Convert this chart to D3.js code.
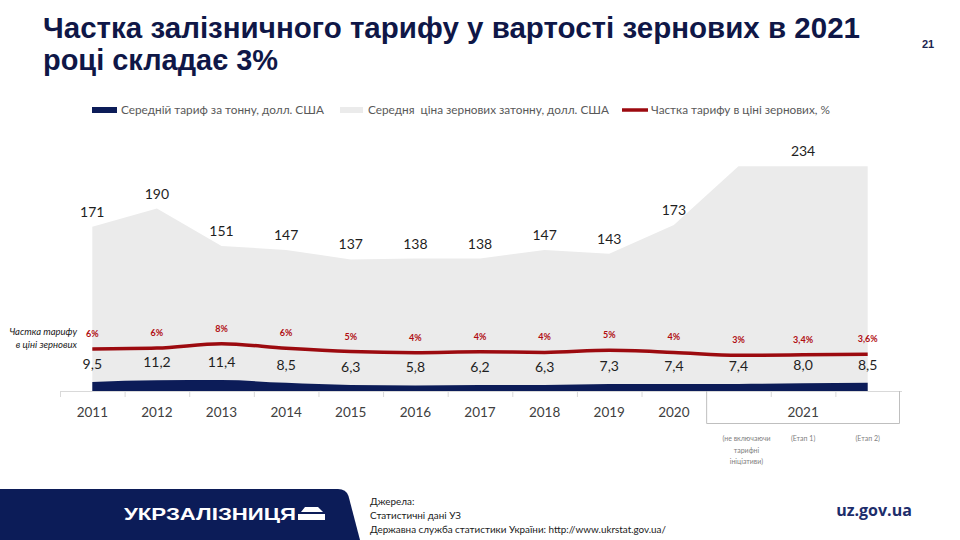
<!DOCTYPE html>
<html>
<head>
<meta charset="utf-8">
<script src="https://cdn.jsdelivr.net/npm/d3@7"></script>
<style>
  body { margin: 0; background: #fff; }
  svg { display: block; }
</style>
</head>
<body>
<div id="chart"></div>
<script>
// chart data
var categories = ["2011", "2012", "2013", "2014", "2015", "2016", "2017", "2018", "2019", "2020", "2021a", "2021b", "2021c"];
var tariff = [9.5, 11.2, 11.4, 8.5, 6.3, 5.8, 6.2, 6.3, 7.3, 7.4, 7.4, 8.0, 8.5];
var price = [171, 190, 151, 147, 137, 138, 138, 147, 143, 173, 234, 234, 234];
var share = [5.6, 5.9, 7.5, 5.8, 4.6, 4.2, 4.5, 4.3, 5.1, 4.3, 3.2, 3.4, 3.6];
var shareLabels = ["6%", "6%", "8%", "6%", "5%", "4%", "4%", "4%", "5%", "4%", "3%", "3,4%", "3,6%"];
var tariffLabels = ["9,5", "11,2", "11,4", "8,5", "6,3", "5,8", "6,2", "6,3", "7,3", "7,4", "7,4", "8,0", "8,5"];
var priceLabels = ["171", "190", "151", "147", "137", "138", "138", "147", "143", "173", "", "234", ""];
var yearLabels = ["2011", "2012", "2013", "2014", "2015", "2016", "2017", "2018", "2019", "2020"];
var groupLabel = "2021";
var subLabels = [["(не включаючи", "тарифні", "ініціативи)"], ["(Етап 1)"], ["(Етап 2)"]];
var legendItems = ["Середній тариф за тонну, долл. США", "Середня  ціна зернових затонну, долл. США", "Частка тарифу в ціні зернових, %"];

var width = 960, height = 540;
var navy = "#0c1c58", grey = "#ebebeb", red = "#9c0a0f";
var font = "Lato, 'Open Sans', sans-serif";

var svg = d3.select("#chart").append("svg")
    .attr("width", width).attr("height", height);

// title
svg.append("text").text("Частка залізничного тарифу у вартості зернових в 2021")
    .attr("x", 43).attr("y", 38)
    .attr("textLength", 817).attr("lengthAdjust", "spacingAndGlyphs")
    .style("font-family", "'Liberation Sans', Arial, sans-serif")
    .style("font-weight", "bold").style("font-size", "29px").style("fill", "#0f1747");
svg.append("text").text("році складає 3%")
    .attr("x", 43).attr("y", 70)
    .attr("textLength", 235).attr("lengthAdjust", "spacingAndGlyphs")
    .style("font-family", "'Liberation Sans', Arial, sans-serif")
    .style("font-weight", "bold").style("font-size", "29px").style("fill", "#0f1747");
svg.append("text").text("21")
    .attr("x", 928).attr("y", 48).attr("text-anchor", "middle")
    .style("font-family", "'Liberation Sans Narrow', 'Liberation Sans', sans-serif")
    .style("font-weight", "bold").style("font-size", "11px").style("fill", "#1c2550");

// scales
var x = d3.scaleBand().domain(categories).range([60, 900]);
var cx = function(i) { return x(categories[i]) + x.bandwidth() / 2; };
var y = d3.scaleLinear().domain([0, 250]).range([391, 151]);
var y2 = d3.scaleLinear().domain([0, 10]).range([364, 337]);

// price area
var priceArea = d3.area()
    .x(function(d, i) { return cx(i); })
    .y0(y(0))
    .y1(function(d) { return y(d); });
svg.append("path").datum(price)
    .attr("d", priceArea)
    .style("fill", grey);

// tariff area
var tariffArea = d3.area()
    .x(function(d, i) { return cx(i); })
    .y0(y(0))
    .y1(function(d) { return y(d); })
    .curve(d3.curveMonotoneX);
svg.append("path").datum(tariff)
    .attr("d", tariffArea)
    .style("fill", navy);

// share line
var shareLine = d3.line()
    .x(function(d, i) { return cx(i); })
    .y(function(d) { return y2(d); })
    .curve(d3.curveMonotoneX);
svg.append("path").datum(share)
    .attr("d", shareLine)
    .style("fill", "none").style("stroke", red).style("stroke-width", 3.5);

// labels
svg.selectAll(".price-label").data(price).enter().append("text")
    .attr("class", "price-label")
    .text(function(d, i) { return priceLabels[i]; })
    .attr("x", function(d, i) { return cx(i); })
    .attr("y", function(d) { return y(d) - 10; })
    .attr("text-anchor", "middle")
    .style("font-family", font).style("font-size", "14px").style("fill", "#1f1f1f");

svg.selectAll(".tariff-label").data(tariff).enter().append("text")
    .attr("class", "tariff-label")
    .text(function(d, i) { return tariffLabels[i]; })
    .attr("x", function(d, i) { return cx(i); })
    .attr("y", function(d) { return y(d) - 13; })
    .attr("text-anchor", "middle")
    .style("font-family", font).style("font-size", "14px").style("fill", "#1f1f1f");

svg.selectAll(".share-label").data(share).enter().append("text")
    .attr("class", "share-label")
    .text(function(d, i) { return shareLabels[i]; })
    .attr("x", function(d, i) { return cx(i); })
    .attr("y", function(d) { return y2(d) - 12; })
    .attr("text-anchor", "middle")
    .style("font-family", font).style("font-weight", "bold")
    .style("font-size", "9px").style("fill", "#b00d12");

// left label
svg.append("text")
    .attr("x", 77).attr("y", 335).attr("text-anchor", "end")
    .style("font-family", font).style("font-style", "italic")
    .style("font-size", "9.5px").style("fill", "#1a1a1a")
    .selectAll("tspan").data(["Частка тарифу", "в ціні зернових"]).enter().append("tspan")
    .attr("x", 77).attr("dy", function(d, i) { return i ? 13 : 0; })
    .text(function(d) { return d; });

// x axis
var axisY = y(0);
svg.append("line")
    .attr("x1", x.range()[0]).attr("x2", x.range()[1] + 2)
    .attr("y1", axisY + 0.5).attr("y2", axisY + 0.5)
    .style("stroke", "#d9d9d9");
svg.selectAll(".tick").data(categories.slice(0, 10).concat(["2021b", "2021c"])).enter().append("line")
    .attr("class", "tick")
    .attr("x1", function(d) { return x(d) + 0.5; })
    .attr("x2", function(d) { return x(d) + 0.5; })
    .attr("y1", axisY).attr("y2", axisY + 6)
    .style("stroke", "#d9d9d9");
svg.selectAll(".year").data(yearLabels).enter().append("text")
    .attr("class", "year")
    .text(function(d) { return d; })
    .attr("x", function(d, i) { return cx(i); })
    .attr("y", axisY + 26)
    .attr("text-anchor", "middle")
    .style("font-family", font).style("font-size", "13.5px").style("fill", "#404040");

// 2021 bracket
var gx0 = x("2021a"), gx1 = x("2021c") + x.bandwidth();
svg.append("path")
    .attr("d", "M" + (gx0 + 0.5) + "," + axisY + "V" + (axisY + 32.5) + "H" + (gx1 - 0.5) + "V" + axisY)
    .style("fill", "none").style("stroke", "#bfbfbf");
svg.append("text").text(groupLabel)
    .attr("x", (gx0 + gx1) / 2).attr("y", axisY + 26)
    .attr("text-anchor", "middle")
    .style("font-family", font).style("font-size", "13.5px").style("fill", "#404040");
subLabels.forEach(function(lines, i) {
    svg.append("text")
        .attr("text-anchor", "middle")
        .style("font-family", font).style("font-size", "7px").style("fill", "#7f7f7f")
        .selectAll("tspan").data(lines).enter().append("tspan")
        .attr("x", cx(10 + i) + (i === 0 ? 8 : 0))
        .attr("y", function(d, j) { return axisY + 50 + j * 11.5; })
        .text(function(d) { return d; });
});

// legend
var legend = svg.append("g").attr("transform", "translate(0,110)");
legend.append("rect").attr("x", 92).attr("y", -3).attr("width", 25).attr("height", 6).style("fill", navy);
legend.append("rect").attr("x", 340).attr("y", -3).attr("width", 23).attr("height", 6).style("fill", grey);
legend.append("line").attr("x1", 622).attr("x2", 648).attr("y1", 0).attr("y2", 0)
    .style("stroke", red).style("stroke-width", 3.5);
[121, 368, 651].forEach(function(lx, i) {
    legend.append("text").text(legendItems[i])
        .attr("x", lx).attr("y", 4)
        .style("font-family", font).style("font-size", "11.8px").style("fill", "#595959")
        .style("white-space", "pre").attr("xml:space", "preserve");
});

// footer
svg.append("path")
    .attr("d", "M0,489H338Q346,489 348.5,496L360,540H0Z")
    .style("fill", navy);
svg.append("text").text("УКРЗАЛІЗНИЦЯ")
    .attr("x", 124).attr("y", 520)
    .attr("textLength", 172).attr("lengthAdjust", "spacingAndGlyphs")
    .style("font-family", "'Liberation Sans', Arial, sans-serif")
    .style("font-weight", "bold").style("font-size", "17px").style("fill", "#fff");
svg.append("path")
    .attr("d", "M301,512L305,507H318L323,512ZM298,514H325V520H298Z")
    .style("fill", "#fff");
svg.append("text")
    .attr("x", 370)
    .style("font-family", font).style("font-size", "9.9px").style("fill", "#1a1a1a")
    .selectAll("tspan").data(["Джерела:", "Статистичні дані УЗ", "Державна служба статистики України: http://www.ukrstat.gov.ua/"])
    .enter().append("tspan")
    .attr("x", 370).attr("y", function(d, i) { return 505 + i * 14; })
    .text(function(d) { return d; });
svg.append("text").text("uz.gov.ua")
    .attr("x", 874).attr("y", 516).attr("text-anchor", "middle")
    .style("font-family", "'Open Sans', sans-serif").style("font-weight", "bold")
    .style("font-size", "16px").style("fill", "#1d2d6b");
</script>
</body>
</html>
